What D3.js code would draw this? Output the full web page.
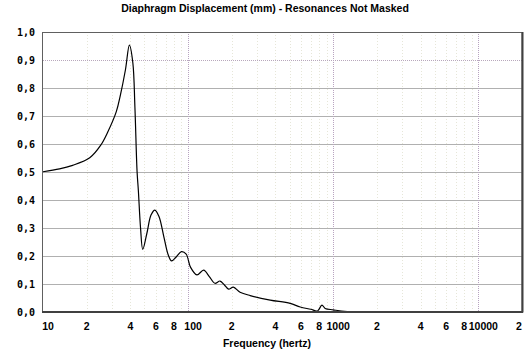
<!DOCTYPE html>
<html lang="en">
<head>
  <meta charset="UTF-8">
  <title>Diaphragm Displacement</title>
  <style>
    body {
      margin: 0;
      background: #ffffff;
    }

    svg {
      display: block;
    }

    .title {
      font-family: "Liberation Sans", Arial, sans-serif;
      font-size: 10.5px;
      font-weight: bold;
      fill: #000;
    }

    .y-label {
      font-family: "DejaVu Sans Mono", monospace;
      font-size: 10px;
      font-weight: bold;
      fill: #000;
    }

    .x-label {
      font-family: "Liberation Sans", Arial, sans-serif;
      font-size: 10.5px;
      font-weight: bold;
      fill: #000;
    }
  </style>
</head>
<body>
  <svg id="chart" width="529" height="363"></svg>

  <script src="https://d3js.org/d3.v7.min.js"></script>
  <script>
    // Curve (frequency in Hz, displacement in mm)
    const freqs = [10, 13, 16, 21, 25, 28, 32, 34, 37, 39.4, 41.6, 43, 44.5, 45.4, 47, 48.7,
      52, 55.5, 59, 63, 68, 73, 77, 83, 90, 97, 104, 115, 128, 140, 153, 166, 178,
      190, 205, 228, 268, 368, 505, 592, 700, 780, 836, 880, 1000, 1250, 20000];
    const disp = [0.50, 0.51, 0.523, 0.55, 0.595, 0.643, 0.715, 0.77, 0.865, 0.953, 0.89, 0.73, 0.50, 0.434, 0.30, 0.222,
      0.28, 0.345, 0.363, 0.34, 0.268, 0.202, 0.181, 0.196, 0.214, 0.205, 0.158, 0.131, 0.148, 0.125, 0.101, 0.109, 0.095,
      0.080, 0.087, 0.069, 0.057, 0.041, 0.029, 0.016, 0.008, 0.002, 0.023, 0.011, 0.006, 0.0, 0.0];

    // Axis ticks
    const xTicks = [10, 20, 40, 60, 80, 100, 200, 400, 600, 800, 1000, 2000, 4000, 6000, 8000, 10000, 20000];
    const xTickLabels = ["10", "2", "4", "6", "8", "100", "2", "4", "6", "8", "1000", "2", "4", "6", "8", "10000", "2"];
    const yTicks = [0, 0.1, 0.2, 0.3, 0.4, 0.5, 0.6, 0.7, 0.8, 0.9, 1.0];
    const yTickLabels = ["0,0", "0,1", "0,2", "0,3", "0,4", "0,5", "0,6", "0,7", "0,8", "0,9", "1,0"];
    const minorFreqs = [30, 50, 70, 90, 300, 500, 700, 900, 3000, 5000, 7000, 9000,
      20, 40, 60, 80, 200, 400, 600, 800, 2000, 4000, 6000, 8000];
    const decadeFreqs = [100, 1000, 10000];

    const svg = d3.select("#chart");

    const plotLeft = 43, plotRight = 522, plotTop = 32, plotBottom = 311.5;

    const x = d3.scaleLog().domain([10, 20000]).range([plotLeft, plotRight]);
    const y = d3.scaleLinear().domain([0, 1]).range([plotBottom, plotTop]);

    // Title
    svg.append("text")
      .attr("class", "title")
      .attr("x", 265)
      .attr("y", 12)
      .attr("text-anchor", "middle")
      .text("Diaphragm Displacement (mm) - Resonances Not Masked");

    // Minor vertical grid (very faint)
    svg.append("g")
      .selectAll("line")
      .data(minorFreqs)
      .join("line")
      .attr("x1", d => Math.round(x(d)) + 0.5)
      .attr("x2", d => Math.round(x(d)) + 0.5)
      .attr("y1", plotTop)
      .attr("y2", plotBottom)
      .attr("stroke", "#e6e6d8")
      .attr("stroke-dasharray", "1,2");

    // Horizontal grid
    svg.append("g")
      .selectAll("line")
      .data(yTicks.filter(d => d > 0 && d < 1))
      .join("line")
      .attr("x1", plotLeft)
      .attr("x2", plotRight)
      .attr("y1", d => Math.round(y(d)) + 0.5)
      .attr("y2", d => Math.round(y(d)) + 0.5)
      .attr("stroke", d => d === 0.9 ? "#b8a8bc" : "#b0b0b0")
      .attr("stroke-dasharray", d => d === 0.9 ? "1,1" : null);

    // Decade lines
    svg.append("g")
      .selectAll("line")
      .data(decadeFreqs)
      .join("line")
      .attr("x1", d => Math.round(x(d)) + 0.5)
      .attr("x2", d => Math.round(x(d)) + 0.5)
      .attr("y1", plotTop)
      .attr("y2", plotBottom)
      .attr("stroke", "#b8a4c0")
      .attr("stroke-dasharray", "1,1");

    // Curve
    const line = d3.line()
      .x((d, i) => x(freqs[i]))
      .y(d => y(d))
      .curve(d3.curveCatmullRom.alpha(0.5));

    svg.append("path")
      .datum(disp)
      .attr("fill", "none")
      .attr("stroke", "#000")
      .attr("stroke-width", 1.2)
      .attr("d", line);

    // Frame
    svg.append("rect")
      .attr("x", plotLeft - 0.5)
      .attr("y", plotTop + 0.5)
      .attr("width", plotRight - plotLeft + 0.5)
      .attr("height", plotBottom - plotTop)
      .attr("fill", "none")
      .attr("stroke", "#606060");

    svg.append("line")
      .attr("x1", plotLeft - 1).attr("x2", plotRight + 1)
      .attr("y1", plotBottom + 0.5).attr("y2", plotBottom + 0.5)
      .attr("stroke", "#404040").attr("stroke-width", 2);

    svg.append("line")
      .attr("x1", plotRight + 0.5).attr("x2", plotRight + 0.5)
      .attr("y1", plotTop).attr("y2", plotBottom + 1)
      .attr("stroke", "#404040").attr("stroke-width", 2);

    // Y labels
    svg.append("g")
      .selectAll("text")
      .data(yTicks)
      .join("text")
      .attr("class", "y-label")
      .attr("x", 35)
      .attr("y", d => y(d) + 4)
      .attr("text-anchor", "end")
      .text((d, i) => yTickLabels[i]);

    // X labels
    svg.append("g")
      .selectAll("text")
      .data(xTicks)
      .join("text")
      .attr("class", "x-label")
      .attr("x", (d, i) => x(d) + (xTickLabels[i].length > 1 ? 5 : 0) - (d === 20000 ? 3 : 0))
      .attr("y", 330)
      .attr("text-anchor", "middle")
      .text((d, i) => xTickLabels[i]);

    // X axis title
    svg.append("text")
      .attr("class", "title")
      .attr("x", 267)
      .attr("y", 347)
      .attr("text-anchor", "middle")
      .text("Frequency (hertz)");
  </script>
</body>
</html>
